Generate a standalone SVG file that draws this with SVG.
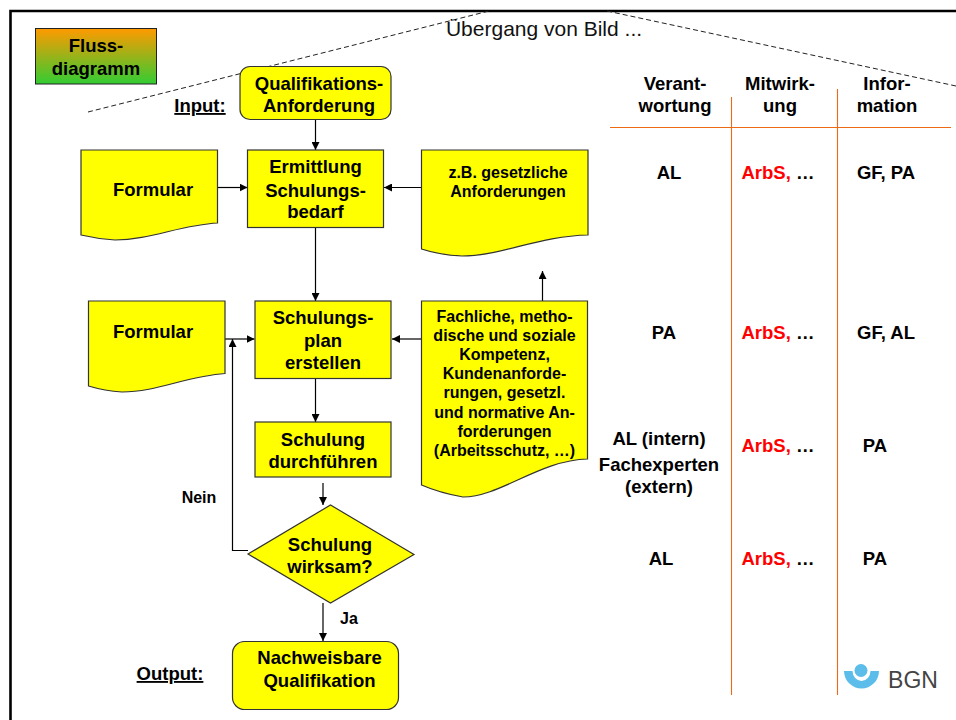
<svg xmlns="http://www.w3.org/2000/svg" width="956" height="720" viewBox="0 0 956 720">
<style>
text{font-family:"Liberation Sans",Arial,sans-serif;font-weight:700;fill:#000;text-anchor:middle}
.n{fill:#ff0;stroke:#333;stroke-width:1.2}
.t{font-size:18.5px}
.m{font-size:18.5px}
.s{font-size:16px}
.x{font-size:16px}
.u{font-size:18.5px;text-decoration:underline}
.c{fill:none;stroke:#000;stroke-width:1.2}
.d{fill:none;stroke:#222;stroke-width:1;stroke-dasharray:5 3}
.o{fill:none;stroke:#ec6a14;stroke-width:1.1}
.r{fill:#f00}
</style>
<defs>
<linearGradient id="g" x1="0" y1="0" x2="0" y2="1"><stop offset="0" stop-color="#ff9a00"/><stop offset="1" stop-color="#33cc33"/></linearGradient>
<marker id="a" viewBox="0 0 8 8" refX="8" refY="4" markerWidth="8" markerHeight="8" markerUnits="userSpaceOnUse" orient="auto"><path d="M0 0L8 4L0 8Z" fill="#000"/></marker>
</defs>
<rect width="956" height="720" fill="#fff"/>
<path d="M10.5 720V11H956" fill="none" stroke="#000" stroke-width="2.6"/>
<g id="dashes">
<path class="d" d="M88 112L489 11"/>
<path class="d" d="M607 11L956 86"/>
</g>
<text id="title" x="544" y="36" style="font-weight:400;font-size:21px;fill:#111">Übergang von Bild ...</text>
<g id="badge">
<rect x="35.5" y="28.5" width="121" height="55.5" fill="url(#g)" stroke="#222" stroke-width="1"/>
<text class="m" x="96" y="52">Fluss-</text>
<text class="m" x="96" y="75">diagramm</text>
</g>
<g id="connectors">
<path class="c" marker-end="url(#a)" d="M315.5 119.5V150"/>
<path class="c" marker-end="url(#a)" d="M217.5 187.5H247.5"/>
<path class="c" marker-end="url(#a)" d="M421.5 187.5H384"/>
<path class="c" marker-end="url(#a)" d="M315.5 227.5V301"/>
<path class="c" marker-end="url(#a)" d="M542.5 301V271"/>
<path class="c" marker-end="url(#a)" d="M225 339H254.5"/>
<path class="c" marker-end="url(#a)" d="M421.5 339H392"/>
<path class="c" marker-end="url(#a)" d="M315.5 378.5V422"/>
<path class="c" marker-end="url(#a)" d="M323 483V505"/>
<path class="c" marker-end="url(#a)" d="M248 550.5H232.5V339"/>
<path class="c" marker-end="url(#a)" d="M323 603V641"/>
</g>
<g id="n-qualifikation">
<rect class="n" x="240" y="66.5" width="151" height="53" rx="10"/>
<text class="t" x="319" y="90">Qualifikations-</text>
<text class="t" x="319" y="112">Anforderung</text>
</g>
<g id="n-ermittlung">
<rect class="n" x="247.5" y="150" width="136" height="77.5"/>
<text class="t" x="315.5" y="173">Ermittlung</text>
<text class="t" x="315.5" y="197">Schulungs-</text>
<text class="t" x="315.5" y="218">bedarf</text>
</g>
<g id="n-formular1">
<path class="n" d="M81 150H217.5V223C180 225 150 240 115 240Q98 239 81 235Z"/>
<text class="t" x="153" y="196">Formular</text>
</g>
<g id="n-gesetz">
<path class="n" d="M421.5 150H588V235C540 236 500 256 462 256Q440 255 421.5 249Z"/>
<text class="s" x="508" y="178">z.B. gesetzliche</text>
<text class="s" x="508" y="197">Anforderungen</text>
</g>
<g id="n-plan">
<rect class="n" x="255" y="301" width="136" height="77.5"/>
<text class="t" x="323" y="324">Schulungs-</text>
<text class="t" x="323" y="347">plan</text>
<text class="t" x="323" y="369">erstellen</text>
</g>
<g id="n-durch">
<rect class="n" x="255" y="422" width="136" height="55"/>
<text class="t" x="323" y="446">Schulung</text>
<text class="t" x="323" y="468">durchführen</text>
</g>
<g id="n-formular2">
<path class="n" d="M88.5 301H225V373.5C187 376 157 392 122 392Q105 391 88.5 386Z"/>
<text class="t" x="153" y="338">Formular</text>
</g>
<g id="n-kompetenz">
<path class="n" d="M421.5 301H587.5V459C540 460 500 497 463 497Q440 493 421.5 485Z"/>
<text class="s" x="504.5" y="322">Fachliche, metho-</text>
<text class="s" x="504.5" y="341">dische und soziale</text>
<text class="s" x="504.5" y="360">Kompetenz,</text>
<text class="s" x="504.5" y="379">Kundenanforde-</text>
<text class="s" x="504.5" y="398">rungen, gesetzl.</text>
<text class="s" x="504.5" y="418">und normative An-</text>
<text class="s" x="504.5" y="437">forderungen</text>
<text class="s" x="504.5" y="456">(Arbeitsschutz, …)</text>
</g>
<g id="n-wirksam">
<path class="n" d="M248 554L330.5 505L414 554.5L330.5 603Z"/>
<text class="t" x="330" y="551">Schulung</text>
<text class="t" x="330" y="573">wirksam?</text>
</g>
<g id="n-nachweis">
<rect class="n" x="232.5" y="641.5" width="166" height="68" rx="12"/>
<text class="t" x="319.5" y="664">Nachweisbare</text>
<text class="t" x="319.5" y="687">Qualifikation</text>
</g>
<text class="u" x="200" y="112">Input:</text>
<text class="u" x="170" y="680">Output:</text>
<text class="x" x="199" y="503">Nein</text>
<text class="x" x="349" y="624">Ja</text>
<g id="table">
<path class="o" d="M610 127.5H951M731.5 97V695M837.5 89V695"/>
<text class="m" x="675" y="90">Verant-</text>
<text class="m" x="675" y="112">wortung</text>
<text class="m" x="780" y="90">Mitwirk-</text>
<text class="m" x="780" y="112">ung</text>
<text class="m" x="887" y="90">Infor-</text>
<text class="m" x="887" y="112">mation</text>
<text class="m" x="669" y="179">AL</text>
<text class="m" x="778" y="179"><tspan class="r">ArbS,</tspan> …</text>
<text class="m" x="886" y="179">GF, PA</text>
<text class="m" x="664" y="339">PA</text>
<text class="m" x="778" y="339"><tspan class="r">ArbS,</tspan> …</text>
<text class="m" x="886" y="339">GF, AL</text>
<text class="m" x="659" y="445">AL (intern)</text>
<text class="m" x="659" y="471">Fachexperten</text>
<text class="m" x="659" y="493">(extern)</text>
<text class="m" x="778" y="452"><tspan class="r">ArbS,</tspan> …</text>
<text class="m" x="875" y="452">PA</text>
<text class="m" x="661" y="565">AL</text>
<text class="m" x="778" y="565"><tspan class="r">ArbS,</tspan> …</text>
<text class="m" x="875" y="565">PA</text>
</g>
<g id="logo">
<circle cx="861" cy="670.5" r="6.5" fill="#5cbcea"/>
<path d="M844 671H852.5A9 10 0 0 0 870.5 671H879A17.5 17.5 0 0 1 844 671Z" fill="#5cbcea"/>
<text x="913" y="688" style="font-weight:400;font-size:23px;fill:#444">BGN</text>
</g>
</svg>
